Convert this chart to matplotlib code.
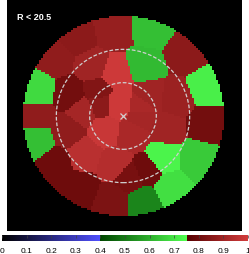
import numpy as np
import matplotlib
matplotlib.use("Agg")
import matplotlib.pyplot as plt
from matplotlib.colors import LinearSegmentedColormap
from matplotlib.patches import Circle

# Voronoi bin centres (units of field radius) and their values
seed_x = [-0.10, 0.27, 0.62, 0.82, 0.82, 0.74, 0.47, 0.39, 0.20, -0.11, -0.43, -0.68, -0.85,
          -0.85, -0.85, -0.68, -0.45,
          -0.30, -0.08, 0.20, 0.52, 0.25, -0.53, -0.25, -0.55, -0.38, -0.08, 0.07, 0.22, 0.42,
          -0.05, 0.17, -0.23, -0.18, 0.09, 0.17, -0.40]
seed_y = [0.85, 0.87, 0.62, 0.29, -0.08, -0.43, -0.73, -0.41, -0.86, -0.85, -0.73, -0.48, -0.25,
          -0.01, 0.27, 0.57, 0.79,
          0.49, 0.42, 0.50, 0.17, 0.20, 0.22, 0.25, -0.15, -0.38, -0.48, -0.61, -0.55, -0.13,
          0.12, 0.09, 0.12, -0.15, -0.18, -0.01, 0.05]
seed_val = [0.88, 0.63, 0.86, 0.72, 0.81, 0.65, 0.69, 0.73, 0.52, 0.83, 0.80, 0.80, 0.63,
            0.87, 0.68, 0.87, 0.86,
            0.90, 0.99, 0.62, 0.89, 0.90, 0.81, 0.84, 0.87, 0.95, 0.94, 0.82, 0.80, 0.90,
            0.99, 0.92, 0.86, 0.98, 0.92, 0.91, 0.91]
ring_radii = [1/3, 2/3]
cbar_ticks = [0, 0.1, 0.2, 0.3, 0.4, 0.5, 0.6, 0.7, 0.8, 0.9, 1]
cbar_labels = ["0", "0.1", "0.2", "0.3", "0.4", "0.5", "0.6", "0.7", "0.8", "0.9", "1"]
label_text = "R < 20.5"

cdict = {
    'red':   [(0.0, 0.0, 0.0), (0.4, 80/255, 0.0), (0.75, 80/255, 85/255), (1.0, 210/255, 210/255)],
    'green': [(0.0, 0.0, 0.0), (0.4, 80/255, 70/255), (0.75, 255/255, 0.0), (1.0, 60/255, 60/255)],
    'blue':  [(0.0, 0.0, 0.0), (0.4, 255/255, 0.0), (0.75, 80/255, 0.0), (1.0, 60/255, 60/255)],
}
cmap = LinearSegmentedColormap('custom', cdict, N=1024)
cmap.set_bad('black')

W, H = 249, 255
fig = plt.figure(figsize=(W/100, H/100), dpi=100)
fig.patch.set_facecolor('white')

xmin, xmax = -1.16, 1.19
ymin, ymax = -1.15, 1.17
ax = fig.add_axes([7/W, 1 - 232/H, 235/W, 232/H])
ax.set_facecolor('black')

n = 50
g = np.linspace(-1, 1, 2*n + 1)
gc = 0.5*(g[:-1] + g[1:])
GX, GY = np.meshgrid(gc, gc)
sx = np.array(seed_x); sy = np.array(seed_y); sv = np.array(seed_val)
d = (GX[..., None] - sx)**2 + (GY[..., None] - sy)**2
img = sv[np.argmin(d, axis=-1)]
img = np.ma.masked_where(GX**2 + GY**2 > 1.0, img)
im = ax.imshow(img, origin='lower', extent=[-1, 1, -1, 1], cmap=cmap, vmin=0, vmax=1,
               interpolation='nearest')
ax.set_xlim(xmin, xmax)
ax.set_ylim(ymin, ymax)
ax.set_aspect('auto')
ax.set_xticks([]); ax.set_yticks([])
for s in ax.spines.values():
    s.set_visible(False)

for r in ring_radii:
    ax.add_patch(Circle((0, 0), r, fill=False, ec='#d0d0d0', lw=0.9, ls=(0, (3, 1.5))))
ax.plot([0], [0], marker='x', color='#d0d0d0', ms=4, mew=0.9)
ax.text(-1.06, 0.99, label_text, color='white', fontsize=6.5, fontweight='bold',
        family='Liberation Sans', ha='left', va='center')

cax = fig.add_axes([2/W, 1 - 242/H, 246/W, 6/H])
cb = fig.colorbar(im, cax=cax, orientation='horizontal')
cb.outline.set_visible(False)
cb.set_ticks(cbar_ticks)
cb.set_ticklabels(cbar_labels)
cax.tick_params(axis='x', direction='in', length=2, width=0.5, color='#404040', pad=4,
                labelsize=6, top=True, bottom=False)
for t in cax.get_xticklabels():
    t.set_family('Liberation Sans')

fig.savefig('out.png', dpi=100, facecolor='white')
